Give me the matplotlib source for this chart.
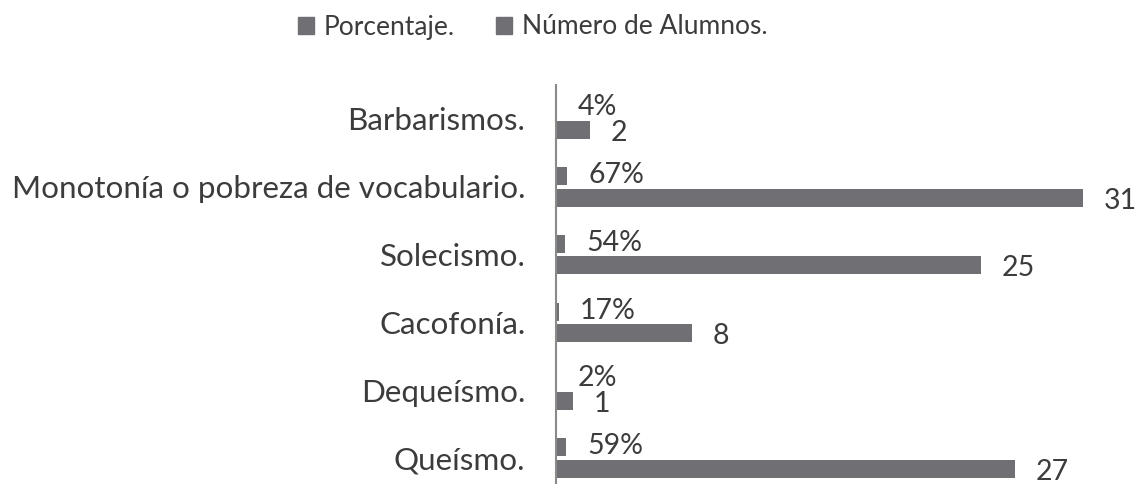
import matplotlib
matplotlib.use("Agg")
import matplotlib.pyplot as plt
from matplotlib.patches import Patch

categories = ["Barbarismos.", "Monotonía o pobreza de vocabulario.", "Solecismo.",
              "Cacofonía.", "Dequeísmo.", "Queísmo."]
porcentaje = [0.04, 0.67, 0.54, 0.17, 0.02, 0.59]
porcentaje_labels = ["4%", "67%", "54%", "17%", "2%", "59%"]
alumnos = [2, 31, 25, 8, 1, 27]
alumnos_labels = ["2", "31", "25", "8", "1", "27"]
series_names = ["Porcentaje.", "Número de Alumnos."]

BAR = "#707074"
TXT = "#3c3c3c"
plt.rcParams['font.family'] = ['Lato', 'DejaVu Sans']

W, H = 1143, 484
fig = plt.figure(figsize=(W / 100, H / 100), dpi=100)
ax_left = 556 / W
ax_top = 1 - 85 / H
ax_bottom = 1 - 492 / H
ax = fig.add_axes([ax_left, ax_bottom, 1 - ax_left, ax_top - ax_bottom])

px_per_unit = 17.0
ax.set_xlim(0, (W - 556) / px_per_unit)
n = len(categories)
ax.set_ylim(n - 0.5, -0.5)

bh = 0.265
off = 0.16
ys = list(range(n))
ax.barh([y - off for y in ys], porcentaje, height=bh, color=BAR)
ax.barh([y + off for y in ys], alumnos, height=bh, color=BAR)

ax.set_yticks(ys)
ax.set_yticklabels(categories, fontsize=22.6, color=TXT)
ax.tick_params(axis='y', length=0, pad=22)
ax.set_xticks([])
for s in ["top", "right", "bottom"]:
    ax.spines[s].set_visible(False)
ax.spines["left"].set_color("#8a8a8a")
ax.spines["left"].set_linewidth(1.5)

fig.canvas.draw()
renderer = fig.canvas.get_renderer()

def put(x, y, s, dy):
    t = ax.annotate(s, (x, y), xytext=(21 * 0.72, dy * 0.72), textcoords="offset points",
                    ha="left", va="center", fontsize=20.5, color=TXT)
    bb = t.get_window_extent(renderer)
    if bb.x1 > W - 3:
        shift = (bb.x1 - (W - 3)) * 0.72
        t.set_position((21 * 0.72 - shift, dy * 0.72))

for y, v, s in zip(ys, porcentaje, porcentaje_labels):
    put(v, y - off, s, 1)
for y, v, s in zip(ys, alumnos, alumnos_labels):
    put(v, y + off, s, -3)

handles = [Patch(color=BAR), Patch(color=BAR)]
fig.legend(handles, series_names, loc="center", bbox_to_anchor=(0.466, 1 - 27 / H),
           ncol=2, frameon=False, fontsize=19, handlelength=0.6, handleheight=0.6,
           handletextpad=0.35, columnspacing=1.6, labelcolor=TXT)

fig.savefig("out.png", dpi=100)
